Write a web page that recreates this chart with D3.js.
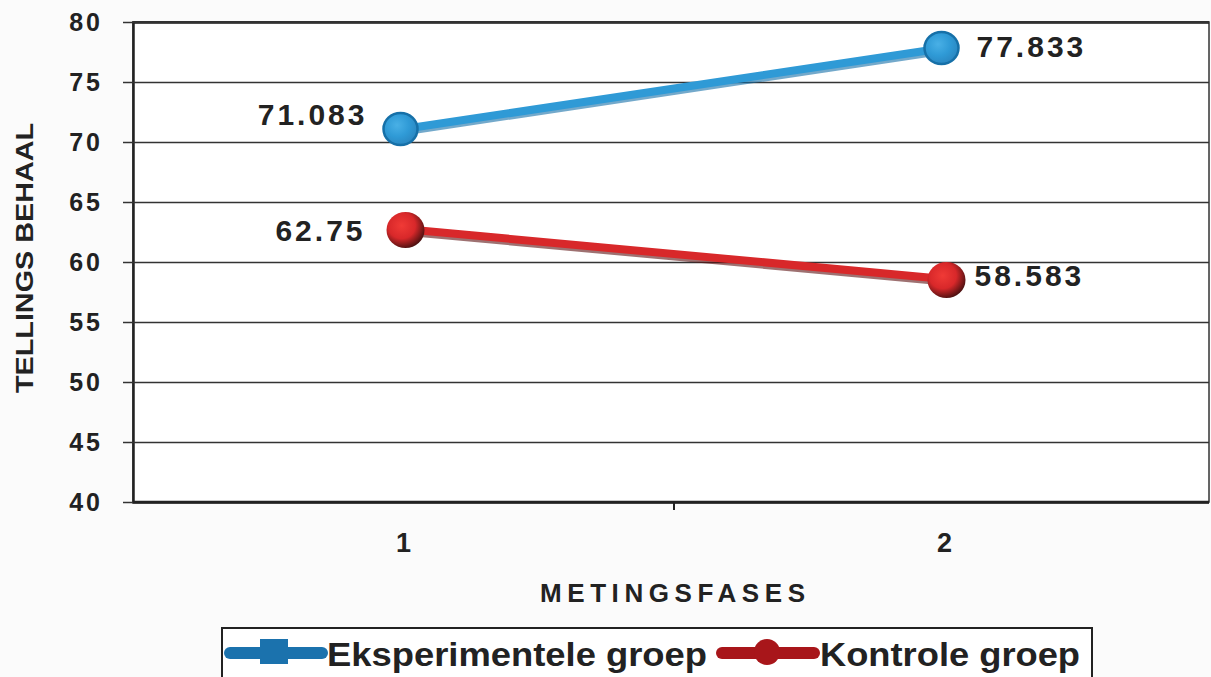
<!DOCTYPE html>
<html>
<head>
<meta charset="utf-8">
<script src="https://cdn.jsdelivr.net/npm/d3@7"></script>
<style>
  body { margin: 0; background: #fbfbfb; }
  svg { display: block; }
  text { font-family: "Liberation Sans", Arial, sans-serif; font-weight: bold; fill: #222; }
  .narrow { font-family: "Liberation Sans Narrow", "Arial Narrow", "Liberation Sans", sans-serif; }
</style>
</head>
<body>
<svg width="1211" height="677"></svg>
<script>
var phases = ["1", "2"];
var eksperimentele = [71.083, 77.833];
var kontrole = [62.75, 58.583];
var seriesNames = ["Eksperimentele groep", "Kontrole groep"];
var yTicks = [40, 45, 50, 55, 60, 65, 70, 75, 80];

var svg = d3.select("svg");
var plotLeft = 133, plotTop = 22, plotRight = 1209, plotBottom = 502;

var x = d3.scaleBand().domain(phases).range([plotLeft, 1215]);
var y = d3.scaleLinear().domain([40, 80]).range([plotBottom, plotTop]);

var defs = svg.append("defs");
function ball(id, light, mid, dark) {
    var g = defs.append("radialGradient").attr("id", id)
        .attr("cx", "40%").attr("cy", "38%").attr("r", "65%");
    g.append("stop").attr("offset", "0%").attr("stop-color", light);
    g.append("stop").attr("offset", "55%").attr("stop-color", mid);
    g.append("stop").attr("offset", "100%").attr("stop-color", dark);
}
ball("ballBlue", "#49b0e6", "#2f9ad6", "#2a86c0");
ball("ballRed", "#f03a36", "#d8282a", "#4a1010");

// plot area
svg.append("rect")
    .attr("x", plotLeft).attr("y", plotTop)
    .attr("width", plotRight - plotLeft).attr("height", plotBottom - plotTop)
    .attr("fill", "#fff")
    .attr("stroke", "#333").attr("stroke-width", 1.5);

// gridlines + y ticks
var yAxis = svg.append("g")
    .attr("transform", "translate(" + plotLeft + ",0)")
    .call(d3.axisLeft(y).tickValues(yTicks).tickSize(-(plotRight - plotLeft)).tickPadding(30));
yAxis.select(".domain").attr("stroke", "#222").attr("stroke-width", 2.5);
yAxis.selectAll(".tick line").attr("stroke", "#333").attr("stroke-width", 1.5).attr("x1", -10);
yAxis.selectAll(".tick text")
    .style("font-size", "25px").style("letter-spacing", "3px").attr("fill", "#222");

// bottom axis
var xAxis = svg.append("g")
    .attr("transform", "translate(0," + plotBottom + ")")
    .call(d3.axisBottom(x).tickSize(0).tickPadding(31));
xAxis.select(".domain").attr("stroke", "#222").attr("stroke-width", 2.5).attr("d", "M" + plotLeft + ",0H" + plotRight);
xAxis.selectAll(".tick text").attr("class", "narrow").style("font-size", "27px").attr("fill", "#222");
var midX = x("2");
svg.append("line")
    .attr("x1", midX).attr("x2", midX)
    .attr("y1", plotBottom).attr("y2", plotBottom + 8)
    .attr("stroke", "#222").attr("stroke-width", 2);

// titles
svg.append("text")
    .attr("class", "narrow")
    .attr("x", 540).attr("y", 602)
    .style("font-size", "26px")
    .attr("textLength", 265).attr("lengthAdjust", "spacing")
    .text("METINGSFASES");
svg.append("text")
    .attr("class", "narrow")
    .attr("transform", "translate(33,393) rotate(-90)")
    .style("font-size", "24px")
    .attr("textLength", 270).attr("lengthAdjust", "spacingAndGlyphs")
    .text("TELLINGS BEHAAL");

var series = [
    { name: seriesNames[0], values: eksperimentele, color: "#2f9ad6", dark: "#1670a8", fill: "url(#ballBlue)", legend: "#1b72ad" },
    { name: seriesNames[1], values: kontrole, color: "#d8282a", dark: "#5e1212", fill: "url(#ballRed)", legend: "#a8161a" }
];

var cx = function (i) { return x(phases[i]) + x.bandwidth() / 2; };

var line = d3.line()
    .x(function (d, i) { return cx(i); })
    .y(function (d) { return y(d); });

series.forEach(function (s, k) {
    svg.append("path")
        .datum(s.values)
        .attr("fill", "none")
        .attr("stroke", s.dark)
        .attr("stroke-opacity", 0.6)
        .attr("stroke-width", 9)
        .attr("transform", "translate(0,2)")
        .attr("d", line);
    svg.append("path")
        .datum(s.values)
        .attr("fill", "none")
        .attr("stroke", s.color)
        .attr("stroke-width", 8)
        .attr("stroke-linecap", "round")
        .attr("d", line);
    svg.selectAll(null)
        .data(s.values)
        .enter().append("ellipse")
        .attr("cx", function (d, i) { return cx(i) + (k === 0 ? -3 : 2); })
        .attr("cy", function (d) { return y(d) + (k === 0 ? 0 : 1); })
        .attr("rx", k === 0 ? 17 : 19).attr("ry", k === 0 ? 16 : 18)
        .attr("fill", s.fill)
        .attr("stroke", k === 0 ? s.dark : "none").attr("stroke-width", 2.5);
});

// data labels
var labels = [
    { v: eksperimentele[0], i: 0, dx: -36, dy: -15, anchor: "end" },
    { v: eksperimentele[1], i: 1, dx: 32, dy: -2, anchor: "start" },
    { v: kontrole[0], i: 0, dx: -38, dy: 1, anchor: "end" },
    { v: kontrole[1], i: 1, dx: 30, dy: -4, anchor: "start" }
];
svg.selectAll(".dlabel")
    .data(labels)
    .enter().append("text")
    .attr("class", "dlabel")
    .attr("x", function (d) { return cx(d.i) + d.dx; })
    .attr("y", function (d) { return y(d.v) + d.dy; })
    .attr("dy", "0.36em")
    .attr("text-anchor", function (d) { return d.anchor; })
    .style("font-size", "30px").style("letter-spacing", "3px")
    .text(function (d) { return d.v; });

// legend
var legend = svg.append("g");
legend.append("rect")
    .attr("x", 222).attr("y", 628)
    .attr("width", 870).attr("height", 60)
    .attr("fill", "#fff").attr("stroke", "#222").attr("stroke-width", 2);

var legendItems = [
    { s: series[0], x0: 230, tx: 327 },
    { s: series[1], x0: 722, tx: 820 }
];
legendItems.forEach(function (d, k) {
    legend.append("line")
        .attr("x1", d.x0).attr("x2", d.x0 + 92)
        .attr("y1", 653).attr("y2", 653)
        .attr("stroke", d.s.legend).attr("stroke-width", 12)
        .attr("stroke-linecap", "round");
    if (k === 0) {
        legend.append("rect")
            .attr("x", d.x0 + 30).attr("y", 639)
            .attr("width", 28).attr("height", 25)
            .attr("fill", d.s.legend);
    } else {
        legend.append("circle")
            .attr("cx", d.x0 + 45).attr("cy", 652).attr("r", 13)
            .attr("fill", d.s.legend);
    }
    legend.append("text")
        .attr("class", "narrow")
        .attr("x", d.tx).attr("y", 654)
        .attr("dy", "0.36em")
        .style("font-size", "33px")
        .attr("textLength", k === 0 ? 380 : 260)
        .attr("lengthAdjust", "spacingAndGlyphs")
        .text(d.s.name);
});
</script>
</body>
</html>
